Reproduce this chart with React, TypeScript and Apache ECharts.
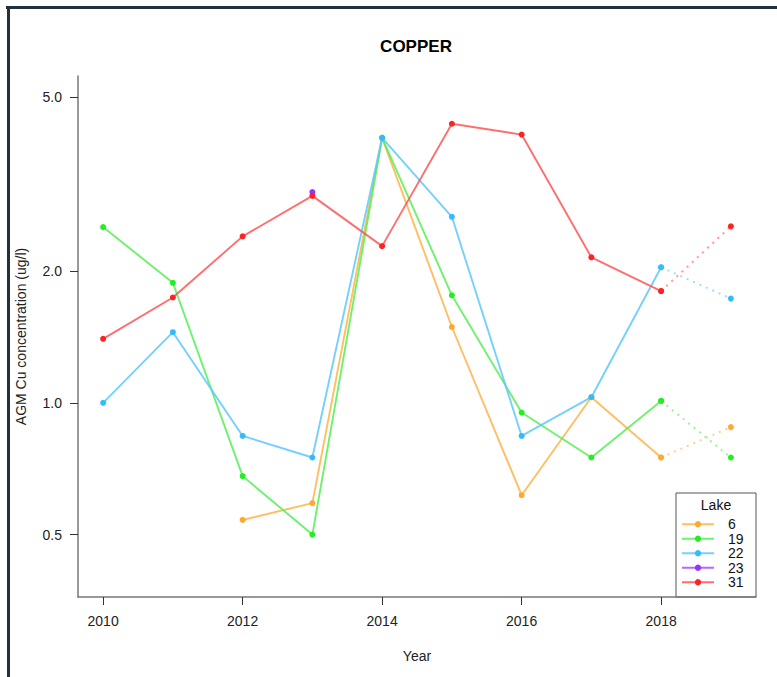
import React, { useEffect, useRef } from "react";
import * as echarts from "echarts";

const years = [2010, 2011, 2012, 2013, 2014, 2015, 2016, 2017, 2018, 2019];
const lakeNames = ["6", "19", "22", "23", "31"];
const lake6 = [null, null, 0.54, 0.59, 4.03, 1.49, 0.615, 1.03, 0.75, 0.88];
const lake19 = [2.52, 1.88, 0.68, 0.5, 4.03, 1.76, 0.95, 0.75, 1.01, 0.75];
const lake22 = [1.0, 1.45, 0.84, 0.75, 4.03, 2.66, 0.84, 1.03, 2.04, 1.73];
const lake23 = [null, null, null, 3.03, null, null, null, null, null, null];
const lake31 = [1.4, 1.74, 2.4, 2.97, 2.28, 4.34, 4.1, 2.15, 1.8, 2.53];
const yTicks = [0.5, 1.0, 2.0, 5.0];
const xTicks = [2010, 2012, 2014, 2016, 2018];
const projectedFrom = 2018;

const lineColors = ["#ffb347", "#55ee55", "#5cc8ff", "#a64dff", "#ff5555"];
const pointColors = ["#ffa833", "#22ee22", "#33bbff", "#9933ff", "#ff2222"];

const FONT = "Liberation Sans, Arial, sans-serif";

export default function App() {
  const ref = useRef<HTMLDivElement>(null);
  useEffect(() => {
    if (!ref.current) return;
    const chart = echarts.init(ref.current, null, { renderer: "svg" });
    const all = [lake6, lake19, lake22, lake23, lake31];
    const series: any[] = [];
    all.forEach((vals, i) => {
      const solid: any[] = [];
      const dotted: any[] = [];
      years.forEach((y, j) => {
        const v = vals[j];
        if (v == null) return;
        if (y <= projectedFrom) solid.push([y, v]);
        if (y >= projectedFrom) dotted.push([y, v]);
      });
      series.push({
        name: lakeNames[i],
        type: "line",
        data: solid,
        symbol: "circle",
        symbolSize: 6,
        itemStyle: { color: pointColors[i] },
        lineStyle: { color: lineColors[i], width: 1.9, opacity: 0.85 },
        z: 2 + i,
      });
      if (dotted.length === 2) {
        series.push({
          name: lakeNames[i],
          type: "line",
          data: dotted,
          symbol: "circle",
          symbolSize: 6,
          itemStyle: { color: pointColors[i] },
          lineStyle: { color: lineColors[i], width: 2, type: [2, 5], opacity: 0.6 },
          z: 2 + i,
        });
      }
    });

    chart.setOption({
      animation: false,
      backgroundColor: "#ffffff",
      textStyle: { fontFamily: FONT },
      title: {
        text: "COPPER",
        left: 411,
        top: 33,
        textAlign: "center",
        textStyle: { fontFamily: FONT, fontSize: 17, fontWeight: "bold", color: "#000" },
      },
      grid: { left: 78, top: 76, right: 21, bottom: 80, containLabel: false, outerBoundsMode: "none" },
      xAxis: {
        type: "value",
        min: 2009.64,
        max: 2019.36,
        name: "Year",
        nameLocation: "middle",
        nameGap: 52,
        nameTextStyle: { fontFamily: FONT, fontSize: 14, color: "#222" },
        splitLine: { show: false },
        axisLine: { show: true, onZero: false, lineStyle: { color: "#777", width: 1.5 } },
        axisTick: { show: true, length: 8, customValues: xTicks, lineStyle: { color: "#333" } },
        axisLabel: {
          customValues: xTicks,
          margin: 17,
          fontSize: 14,
          color: "#222",
          fontFamily: FONT,
          formatter: (v: number) => String(Math.round(v)),
        },
      },
      yAxis: {
        type: "log",
        logBase: 10,
        min: 0.36,
        max: 5.58,
        name: "AGM Cu concentration (ug/l)",
        nameLocation: "middle",
        nameGap: 50,
        nameTextStyle: { fontFamily: FONT, fontSize: 14, color: "#222" },
        splitLine: { show: false },
        axisLine: { show: true, onZero: false, lineStyle: { color: "#777", width: 1.5 } },
        axisTick: { show: true, length: 8, customValues: yTicks, lineStyle: { color: "#333" } },
        axisLabel: {
          customValues: yTicks,
          margin: 16,
          fontSize: 14,
          color: "#222",
          fontFamily: FONT,
          formatter: (v: number) => Number(v).toFixed(1),
        },
      },
      legend: {
        data: lakeNames,
        orient: "vertical",
        left: 681,
        top: 517,
        itemWidth: 32,
        itemHeight: 8,
        itemGap: 0,
        padding: 0,
        selectedMode: false,
        textStyle: { fontFamily: FONT, fontSize: 14, color: "#111", lineHeight: 14.5, padding: [0, 0, 0, 9] },
      },
      graphic: [
        {
          type: "rect",
          shape: { x: 676, y: 493, width: 80, height: 104 },
          style: { fill: "#fff", stroke: "#555", lineWidth: 1 },
          z: 0,
        },
        {
          type: "text",
          x: 716,
          y: 505,
          style: { text: "Lake", fontFamily: FONT, fontSize: 14, fill: "#111", textAlign: "center", textVerticalAlign: "middle" },
          z: 10,
        },
        {
          type: "line",
          shape: { x1: 6, y1: 7.5, x2: 777, y2: 7.5 },
          style: { stroke: "#223040", lineWidth: 3 },
          z: 10,
        },
        {
          type: "line",
          shape: { x1: 8.5, y1: 6, x2: 8.5, y2: 677 },
          style: { stroke: "#223040", lineWidth: 3 },
          z: 10,
        },
      ],
      series,
    });
    return () => chart.dispose();
  }, []);
  return <div ref={ref} style={{ position: "fixed", left: 0, top: 0, width: 777, height: 677 }} />;
}
